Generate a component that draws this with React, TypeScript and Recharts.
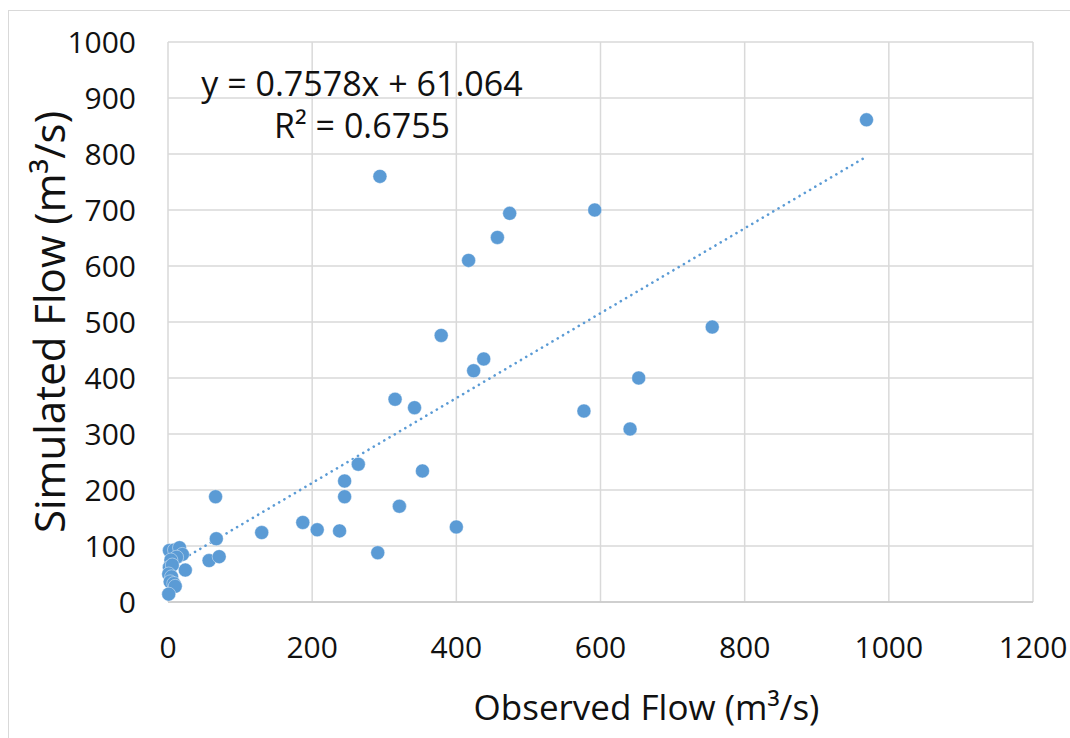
import { ScatterChart, Scatter, XAxis, YAxis, CartesianGrid, Label } from "recharts";

// observed vs simulated flow
const observed = [969, 592, 755, 653, 577, 641, 294, 474, 457, 417, 379, 438, 424, 315, 342, 264, 353, 245, 245, 321, 187, 207, 238, 130, 400, 291, 66, 67, 57, 71, 24, 2, 9, 16, 20, 12, 4, 2, 6, 1, 5, 3, 8, 10, 1];
const simulated = [861, 700, 491, 400, 341, 309, 760, 694, 651, 610, 476, 434, 413, 362, 347, 246, 234, 216, 188, 171, 142, 129, 127, 124, 134, 88, 188, 113, 74, 81, 57, 92, 93, 97, 85, 80, 75, 62, 66, 50, 45, 36, 33, 28, 14];

const xTicks = [0, 200, 400, 600, 800, 1000, 1200];
const yTicks = [0, 100, 200, 300, 400, 500, 600, 700, 800, 900, 1000];

// linear trendline as printed on the chart
const slope = 0.7578;
const intercept = 61.064;
const trendEnds = [1, 969];

const BLUE = "#5B9BD5";
const FONT = "'Open Sans', sans-serif";

const points = observed.map((x, i) => ({ x, y: simulated[i] }));
const trend = trendEnds.map(x => ({ x, y: slope * x + intercept }));

const Dot = (props: any) => (
  <circle cx={props.cx} cy={props.cy} r={7} fill={BLUE} stroke="#ffffff" strokeWidth={0.6} strokeOpacity={0.7} />
);

export default function App() {
  return (
    <div style={{ position: "absolute", left: 0, top: 0, width: 1070, height: 738, background: "#fff", overflow: "hidden", fontFamily: FONT }}>
      <div style={{ position: "absolute", left: 8, top: 10, width: 1200, height: 900, border: "1.5px solid #d9d9d9" }} />
      <ScatterChart width={1070} height={738} margin={{ top: 42, right: 37, left: 0, bottom: 0 }}>
        <CartesianGrid stroke="#d9d9d9" strokeWidth={1.5} />
        <XAxis
          type="number"
          dataKey="x"
          domain={[0, 1200]}
          ticks={xTicks}
          height={136}
          tickLine={false}
          tickSize={0}
          tickMargin={35}
          axisLine={{ stroke: "#c8c8c8", strokeWidth: 1.5 }}
          tick={{ fontSize: 30, fill: "#111", fontFamily: FONT }}
          interval={0}
        >
          <Label
            value="Observed Flow (m³/s)"
            position="insideBottom"
            offset={18}
            dx={46}
            style={{ fontSize: 35, fill: "#111", fontFamily: FONT }}
          />
        </XAxis>
        <YAxis
          type="number"
          dataKey="y"
          domain={[0, 1000]}
          ticks={yTicks}
          width={168}
          tickLine={false}
          tickSize={0}
          tickMargin={32}
          axisLine={false}
          tick={{ fontSize: 30, fill: "#111", fontFamily: FONT }}
          interval={0}
        >
          <Label
            value="Simulated Flow (m³/s)"
            angle={-90}
            position="insideLeft"
            offset={50}
            style={{ fontSize: 42, fill: "#111", fontFamily: FONT, textAnchor: "middle" }}
          />
        </YAxis>
        <Scatter
          data={trend}
          line={{ stroke: BLUE, strokeWidth: 2.6, strokeDasharray: "0.1 6", strokeLinecap: "round" }}
          shape={() => <g />}
          isAnimationActive={false}
        />
        <Scatter data={points} shape={Dot} isAnimationActive={false} />
      </ScatterChart>
      <div style={{ position: "absolute", left: 162, top: 62, width: 400, textAlign: "center", fontSize: 34, lineHeight: "42px", color: "#111" }}>
        <div>y = 0.7578x + 61.064</div>
        <div>R² = 0.6755</div>
      </div>
    </div>
  );
}
